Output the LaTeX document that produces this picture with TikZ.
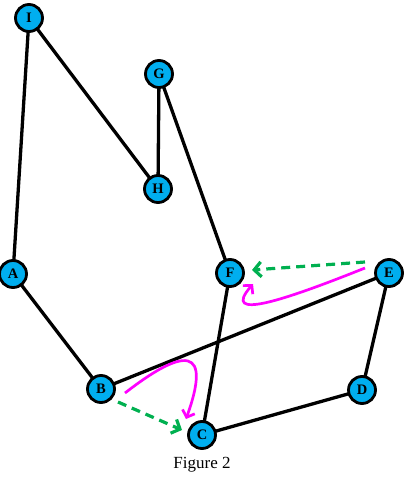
\documentclass[tikz,border=0pt]{standalone}
\usepackage{fontspec}
\setmainfont{Liberation Serif}
\usetikzlibrary{arrows.meta}
\definecolor{nodeblue}{HTML}{00AEEF}
\definecolor{arrgreen}{HTML}{00B050}
\definecolor{arrmag}{HTML}{FF00FF}
\tikzset{
  vtx/.style={circle, draw=black, line width=2.8pt, fill=nodeblue, minimum size=27pt, inner sep=0pt, font=\bfseries\fontsize{14.5}{14.5}\selectfont},
  edge/.style={line width=3.3pt, black},
  greenarr/.style={arrgreen, line width=3.2pt, dash pattern=on 9pt off 6pt, -{Straight Barb[length=7pt, width=15pt, line width=3.2pt]}},
  magarr/.style={arrmag, line width=2.7pt, -{Straight Barb[length=6pt, width=13pt, line width=2.7pt]}}
}
\begin{document}
\begin{tikzpicture}[x=1pt, y=-1pt]
\useasboundingbox (0,0) rectangle (406,478);
\coordinate (I) at (29,18);
\coordinate (G) at (159,74);
\coordinate (H) at (158,189);
\coordinate (A) at (13,274);
\coordinate (F) at (230,273);
\coordinate (E) at (389,273);
\coordinate (B) at (101,389);
\coordinate (D) at (362,390);
\coordinate (C) at (202,435);
\draw[edge] (I) -- (A);
\draw[edge] (I) -- (H);
\draw[edge] (G) -- (H);
\draw[edge] (G) -- (F);
\draw[edge] (A) -- (B);
\draw[edge] (B) -- (E);
\draw[edge] (E) -- (D);
\draw[edge] (D) -- (C);
\draw[edge] (C) -- (F);
\node[vtx] (nI) at (I) {I};
\node[vtx] (nG) at (G) {G};
\node[vtx] (nH) at (H) {H};
\node[vtx] (nA) at (A) {A};
\node[vtx] (nF) at (F) {F};
\node[vtx] (nE) at (E) {E};
\node[vtx] (nB) at (B) {B};
\node[vtx] (nD) at (D) {D};
\node[vtx] (nC) at (C) {C};
\node[font=\fontsize{17}{17}\selectfont] (cap) at (202,465) {Figure 2};
\coordinate (g1s) at (365,262);
\coordinate (g1e) at (252,270);
\coordinate (g2s) at (118,402);
\coordinate (g2e) at (182,430);
\coordinate (m1s) at (365,268);
\coordinate (m1e) at (253,284);
\coordinate (m2s) at (125,393);
\coordinate (m2e) at (186,419);
\draw[greenarr] (g1s) -- (g1e);
\draw[greenarr] (g2s) -- (g2e);
\draw[magarr] (m1s) .. controls (285,300) and (220,322) .. (m1e);
\draw[magarr] (m2s) .. controls (165,362) and (218,330) .. (m2e);
\end{tikzpicture}
\end{document}
